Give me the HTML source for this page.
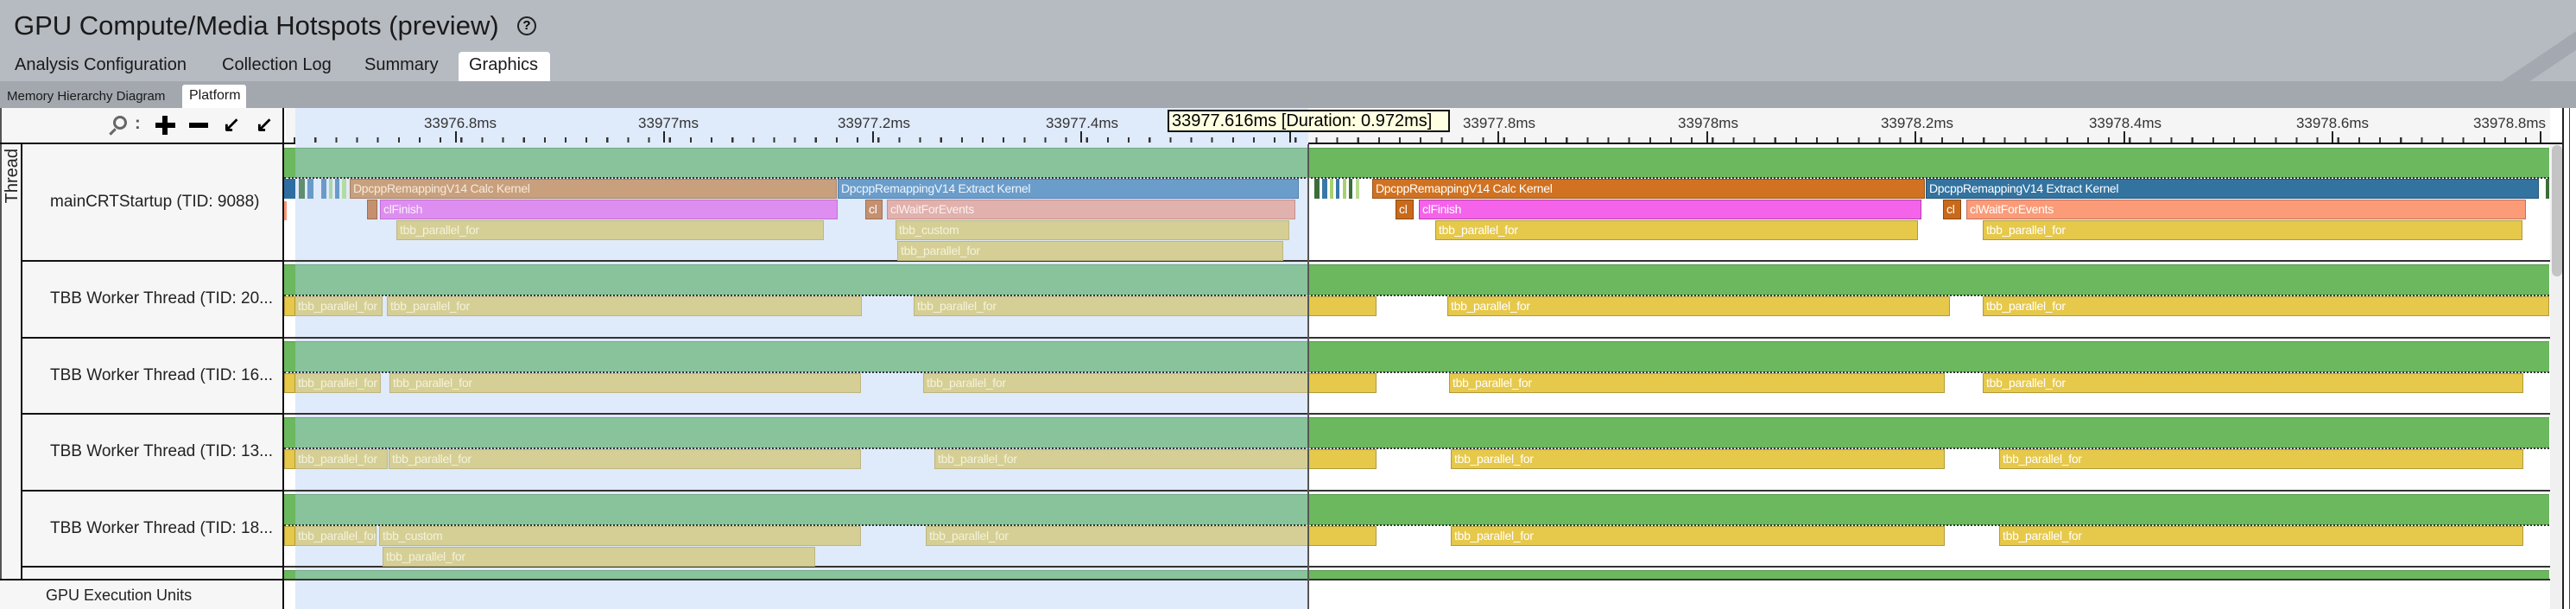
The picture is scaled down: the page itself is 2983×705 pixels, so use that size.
<!DOCTYPE html>
<html><head><meta charset="utf-8"><style>
*{margin:0;padding:0;box-sizing:border-box}
body{width:2983px;height:705px;position:relative;overflow:hidden;background:#fff;font-family:"Liberation Sans",sans-serif}
.a{position:absolute}
.t{position:absolute;white-space:nowrap}
.b{position:absolute;height:23px;border:1px solid;font-size:14px;color:#fff;padding-left:3px;line-height:21px;overflow:hidden;white-space:nowrap;letter-spacing:-0.3px}
.y{background:#e6c84b;border-color:#b39a3a}
.ys{background:#d5cf95;border-color:#bdb680;color:#f4f2dc}
.g{position:absolute;height:36px;background:#6bb85e;border-top:1px solid #5a9c50}
.gs{position:absolute;height:36px;background:#88c39b;border-top:1px solid #77aa88}
.dot{position:absolute;height:0;border-top:2px dotted #333}
.rl{position:absolute;left:26px;width:303px;height:2px;background:#111}
.tl{position:absolute;left:329px;width:2624px;height:2px;background:#333}
.lbl{position:absolute;left:58px;font-size:19px;color:#222;white-space:nowrap}
.tk{position:absolute;width:2px;background:#222}
.tx{position:absolute;top:133px;font-size:17px;color:#333;white-space:nowrap;transform:translateX(-50%)}
</style></head><body>
<!-- header -->
<div class="a" style="left:0;top:0;width:2983px;height:94px;background:#b6bac1"></div>
<div class="a" style="left:2820px;top:0;width:163px;height:94px;overflow:hidden">
 <div class="a" style="left:60px;top:40px;width:200px;height:18px;background:#a4a8b0;transform:rotate(-34deg)"></div>
 <div class="a" style="left:120px;top:70px;width:200px;height:10px;background:#a4a8b0;transform:rotate(-34deg)"></div>
</div>
<div class="t" style="left:16px;top:12px;font-size:31px;color:#1a1a1a">GPU Compute/Media Hotspots (preview)</div>
<div class="a" style="left:599px;top:19px;width:22px;height:22px;border:2px solid #222;border-radius:50%;font-size:15px;line-height:18px;text-align:center;font-weight:bold">?</div>
<div class="t" style="left:17px;top:64px;font-size:20px;color:#1a1a1a">Analysis Configuration</div>
<div class="t" style="left:257px;top:64px;font-size:20px;color:#1a1a1a">Collection Log</div>
<div class="t" style="left:422px;top:64px;font-size:20px;color:#1a1a1a">Summary</div>
<div class="a" style="left:531px;top:60px;width:106px;height:34px;background:#fff;border-radius:4px 4px 0 0"></div>
<div class="t" style="left:543px;top:64px;font-size:20px;color:#1a1a1a">Graphics</div>
<div class="a" style="left:0;top:94px;width:2983px;height:31px;background:#a3a7ae"></div>
<div class="t" style="left:8px;top:103px;font-size:15px;color:#1a1a1a">Memory Hierarchy Diagram</div>
<div class="a" style="left:211px;top:98px;width:74px;height:27px;background:#fff;border-radius:3px 3px 0 0"></div>
<div class="t" style="left:219px;top:102px;font-size:16px;color:#1a1a1a">Platform</div>
<!-- left panel -->
<div class="a" style="left:0;top:125px;width:329px;height:580px;background:#f6f6f6;border-right:2px solid #111"></div>
<div class="a" style="left:0;top:125px;width:2px;height:546px;background:#555"></div>
<div class="a" style="left:131px;top:134px;width:16px;height:16px;border:3px solid #666;border-radius:50%"></div>
<div class="a" style="left:126px;top:151px;width:9px;height:3px;background:#666;transform:rotate(-45deg)"></div>
<div class="t" style="left:156px;top:132px;font-size:20px;color:#555;font-weight:bold">:</div>
<div class="a" style="left:180px;top:142px;width:23px;height:6px;background:#000"></div>
<div class="a" style="left:188px;top:134px;width:6px;height:22px;background:#000"></div>
<div class="a" style="left:219px;top:142px;width:22px;height:6px;background:#000"></div>
<div class="t" style="left:258px;top:130px;font-size:24px;color:#000;font-weight:bold">&#8601;</div>
<div class="t" style="left:296px;top:130px;font-size:24px;color:#000;font-weight:bold">&#8601;</div>
<div class="a" style="left:0;top:165px;width:2968px;height:2px;background:#111"></div>
<div class="a" style="left:24px;top:167px;width:2px;height:504px;background:#111"></div>
<div class="t" style="left:3px;top:172px;font-size:20px;color:#222;writing-mode:vertical-rl;transform:rotate(180deg)">Thread</div>
<div class="lbl" style="top:223px">mainCRTStartup (TID: 9088)</div>
<div class="lbl" style="top:335px">TBB Worker Thread (TID: 20...</div>
<div class="lbl" style="top:424px">TBB Worker Thread (TID: 16...</div>
<div class="lbl" style="top:512px">TBB Worker Thread (TID: 13...</div>
<div class="lbl" style="top:601px">TBB Worker Thread (TID: 18...</div>
<div class="t" style="left:53px;top:679px;font-size:18px;color:#222">GPU Execution Units</div>
<div class="rl" style="top:301px"></div><div class="rl" style="top:390px"></div><div class="rl" style="top:478px"></div><div class="rl" style="top:567px"></div><div class="rl" style="top:655px"></div>
<div class="a" style="left:0;top:670px;width:329px;height:2px;background:#111"></div>
<!-- ruler -->
<div class="a" style="left:331px;top:125px;width:2622px;height:40px;background:#f5f5f5"></div>
<div class="a" style="left:342px;top:125px;width:1173px;height:580px;background:#dfeafb"></div>
<div class="a" style="left:329px;top:159px;width:2624px;height:6px;background:repeating-linear-gradient(90deg,transparent 0,transparent 22px,#333 22px,#333 24.15px);background-position:-11px 0"></div>
<div class="tk" style="left:527px;top:152px;height:13px"></div><div class="tk" style="left:768px;top:152px;height:13px"></div><div class="tk" style="left:1010px;top:152px;height:13px"></div><div class="tk" style="left:1251px;top:152px;height:13px"></div><div class="tk" style="left:1493px;top:152px;height:13px"></div><div class="tk" style="left:1734px;top:152px;height:13px"></div><div class="tk" style="left:1976px;top:152px;height:13px"></div><div class="tk" style="left:2217px;top:152px;height:13px"></div><div class="tk" style="left:2459px;top:152px;height:13px"></div><div class="tk" style="left:2700px;top:152px;height:13px"></div><div class="tk" style="left:2941px;top:152px;height:13px"></div>
<div class="tx" style="left:533px">33976.8ms</div><div class="tx" style="left:774px">33977ms</div><div class="tx" style="left:1012px">33977.2ms</div><div class="tx" style="left:1253px">33977.4ms</div><div class="tx" style="left:1736px">33977.8ms</div><div class="tx" style="left:1978px">33978ms</div><div class="tx" style="left:2220px">33978.2ms</div><div class="tx" style="left:2461px">33978.4ms</div><div class="tx" style="left:2701px">33978.6ms</div><div class="tx" style="left:2906px">33978.8ms</div>
<div class="a" style="left:1352px;top:127px;width:327px;height:26px;background:#ffffe1;border:2px solid #111;font-size:20px;line-height:22px;padding-left:3px;white-space:nowrap">33977.616ms [Duration: 0.972ms]</div>
<!-- timeline row lines -->
<div class="tl" style="top:301px"></div><div class="tl" style="top:390px"></div><div class="tl" style="top:478px"></div><div class="tl" style="top:567px"></div><div class="tl" style="top:655px"></div><div class="tl" style="top:670px"></div>
<!-- main row -->
<div class="g" style="left:329px;top:171px;width:13px;height:35px"></div><div class="gs" style="left:342px;top:171px;width:1173px;height:35px"></div><div class="g" style="left:1515px;top:171px;width:1437px;height:35px"></div>
<div class="dot" style="left:329px;top:205px;width:2623px"></div>
<div class="a" style="left:329px;top:207px;width:13px;height:23px;background:#2e6da0"></div>
<div class="a" style="left:346px;top:207px;width:7px;height:23px;background:#5f8f6f"></div><div class="a" style="left:356px;top:207px;width:7px;height:23px;background:#6a9ac8"></div><div class="a" style="left:372px;top:207px;width:6px;height:23px;background:#6a9ac8"></div><div class="a" style="left:381px;top:207px;width:4px;height:23px;background:#a9d6a8"></div><div class="a" style="left:388px;top:207px;width:5px;height:23px;background:#6a9ac8"></div><div class="a" style="left:396px;top:207px;width:5px;height:23px;background:#b4dca0"></div>
<div class="b" style="left:405px;top:207px;width:564px;background:#c9a07e;border-color:#a88060;color:#f5ead8">DpcppRemappingV14 Calc Kernel</div>
<div class="b" style="left:970px;top:207px;width:534px;background:#6b9dcb;border-color:#5080b0;color:#eef4fb">DpcppRemappingV14 Extract Kernel</div>
<div class="a" style="left:1522px;top:207px;width:6px;height:23px;background:#3a6e3a"></div><div class="a" style="left:1531px;top:207px;width:6px;height:23px;background:#3a78a8"></div><div class="a" style="left:1540px;top:207px;width:4px;height:23px;background:#a8d070"></div><div class="a" style="left:1547px;top:207px;width:4px;height:23px;background:#3a78a8"></div><div class="a" style="left:1555px;top:207px;width:4px;height:23px;background:#a8d070"></div><div class="a" style="left:1562px;top:207px;width:4px;height:23px;background:#3a6e3a"></div><div class="a" style="left:1570px;top:207px;width:4px;height:23px;background:#b8dc90"></div>
<div class="b" style="left:1589px;top:207px;width:640px;background:#d07221;border-color:#9a5418">DpcppRemappingV14 Calc Kernel</div>
<div class="b" style="left:2230px;top:207px;width:710px;background:#3373a0;border-color:#24557a">DpcppRemappingV14 Extract Kernel</div>
<div class="a" style="left:2948px;top:207px;width:4px;height:23px;background:#3a6e3a"></div>
<div class="a" style="left:329px;top:233px;width:3px;height:22px;background:#f99575"></div>
<div class="b" style="left:425px;top:231px;width:12px;background:#c49070;border-color:#a07050"></div>
<div class="b" style="left:440px;top:231px;width:530px;background:#de8ef0;border-color:#c070d0;color:#fbeefd">clFinish</div>
<div class="b" style="left:1002px;top:231px;width:20px;background:#c49070;border-color:#a07050">cl</div>
<div class="b" style="left:1027px;top:231px;width:473px;background:#e1b1ad;border-color:#c89090;color:#fcf0ee">clWaitForEvents</div>
<div class="b" style="left:1616px;top:231px;width:21px;background:#c86a1a;border-color:#8a4a10">cl</div>
<div class="b" style="left:1643px;top:231px;width:582px;background:#f463ea;border-color:#b040a8">clFinish</div>
<div class="b" style="left:2250px;top:231px;width:21px;background:#c86a1a;border-color:#8a4a10">cl</div>
<div class="b" style="left:2277px;top:231px;width:648px;background:#fb9b78;border-color:#c07060">clWaitForEvents</div>
<div class="b ys" style="left:459px;top:255px;width:495px">tbb_parallel_for</div>
<div class="b ys" style="left:1037px;top:255px;width:456px">tbb_custom</div>
<div class="b y" style="left:1662px;top:255px;width:559px">tbb_parallel_for</div>
<div class="b y" style="left:2296px;top:255px;width:625px">tbb_parallel_for</div>
<div class="b ys" style="left:1039px;top:279px;width:447px">tbb_parallel_for</div>
<!-- TBB rows -->
<div class="g" style="left:329px;top:306px;width:13px"></div><div class="gs" style="left:342px;top:306px;width:1173px"></div><div class="g" style="left:1515px;top:306px;width:1437px"></div>
<div class="dot" style="left:329px;top:341px;width:2623px"></div>
<div class="b y" style="left:329px;top:343px;width:13px"></div><div class="b ys" style="left:342px;top:343px;width:101px;border-left:none">tbb_parallel_for</div>
<div class="b ys" style="left:448px;top:343px;width:550px">tbb_parallel_for</div>
<div class="b ys" style="left:1058px;top:343px;width:457px">tbb_parallel_for</div><div class="b y" style="left:1515px;top:343px;width:79px"></div>
<div class="b y" style="left:1676px;top:343px;width:582px">tbb_parallel_for</div>
<div class="b y" style="left:2296px;top:343px;width:656px">tbb_parallel_for</div>

<div class="g" style="left:329px;top:395px;width:13px"></div><div class="gs" style="left:342px;top:395px;width:1173px"></div><div class="g" style="left:1515px;top:395px;width:1437px"></div>
<div class="dot" style="left:329px;top:430px;width:2623px"></div>
<div class="b y" style="left:329px;top:432px;width:13px"></div><div class="b ys" style="left:342px;top:432px;width:99px;border-left:none">tbb_parallel_for</div>
<div class="b ys" style="left:451px;top:432px;width:546px">tbb_parallel_for</div>
<div class="b ys" style="left:1069px;top:432px;width:446px">tbb_parallel_for</div><div class="b y" style="left:1515px;top:432px;width:79px"></div>
<div class="b y" style="left:1678px;top:432px;width:574px">tbb_parallel_for</div>
<div class="b y" style="left:2296px;top:432px;width:626px">tbb_parallel_for</div>

<div class="g" style="left:329px;top:483px;width:13px"></div><div class="gs" style="left:342px;top:483px;width:1173px"></div><div class="g" style="left:1515px;top:483px;width:1437px"></div>
<div class="dot" style="left:329px;top:518px;width:2623px"></div>
<div class="b y" style="left:329px;top:520px;width:13px"></div><div class="b ys" style="left:342px;top:520px;width:107px;border-left:none">tbb_parallel_for</div>
<div class="b ys" style="left:450px;top:520px;width:547px">tbb_parallel_for</div>
<div class="b ys" style="left:1082px;top:520px;width:433px">tbb_parallel_for</div><div class="b y" style="left:1515px;top:520px;width:79px"></div>
<div class="b y" style="left:1680px;top:520px;width:572px">tbb_parallel_for</div>
<div class="b y" style="left:2315px;top:520px;width:607px">tbb_parallel_for</div>

<div class="g" style="left:329px;top:572px;width:13px"></div><div class="gs" style="left:342px;top:572px;width:1173px"></div><div class="g" style="left:1515px;top:572px;width:1437px"></div>
<div class="dot" style="left:329px;top:607px;width:2623px"></div>
<div class="b y" style="left:329px;top:609px;width:13px"></div><div class="b ys" style="left:342px;top:609px;width:94px;border-left:none">tbb_parallel_for</div>
<div class="b ys" style="left:439px;top:609px;width:558px">tbb_custom</div>
<div class="b ys" style="left:1072px;top:609px;width:443px">tbb_parallel_for</div><div class="b y" style="left:1515px;top:609px;width:79px"></div>
<div class="b y" style="left:1680px;top:609px;width:572px">tbb_parallel_for</div>
<div class="b y" style="left:2315px;top:609px;width:607px">tbb_parallel_for</div>
<div class="b ys" style="left:443px;top:633px;width:501px">tbb_parallel_for</div>

<div class="g" style="left:329px;top:660px;width:13px;height:10px"></div><div class="gs" style="left:342px;top:660px;width:1173px;height:10px"></div><div class="g" style="left:1515px;top:660px;width:1437px;height:10px"></div>
<div class="a" style="left:1514px;top:167px;width:2px;height:538px;background:#555"></div>
<div class="a" style="left:2953px;top:167px;width:15px;height:538px;background:#f0f0f0"></div>
<div class="a" style="left:2955px;top:168px;width:12px;height:152px;background:#c4c4c4;border-radius:6px"></div>
<div class="a" style="left:2967px;top:125px;width:2px;height:580px;background:#222"></div>
<div class="a" style="left:2975px;top:125px;width:1px;height:580px;background:#444"></div>
</body></html>
